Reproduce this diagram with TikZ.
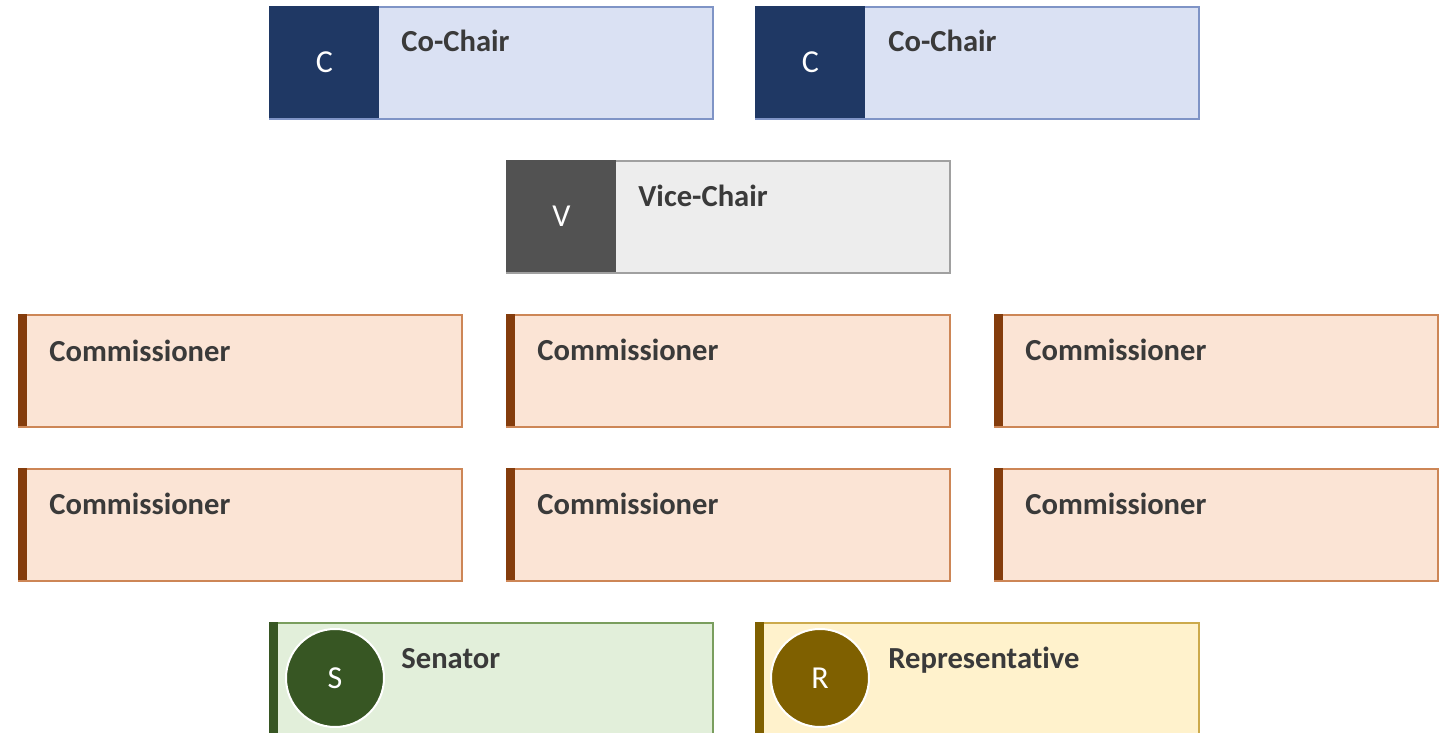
\documentclass[tikz,border=0pt]{standalone}
\usepackage{fontspec}
\setmainfont[Ligatures=NoCommon]{Carlito}
\definecolor{chairdark}{HTML}{1F3864}
\definecolor{chairfill}{HTML}{DAE1F3}
\definecolor{chairline}{HTML}{7F94C6}
\definecolor{vicedark}{HTML}{525252}
\definecolor{vicefill}{HTML}{EDEDED}
\definecolor{viceline}{HTML}{A0A0A0}
\definecolor{comfill}{HTML}{FBE4D5}
\definecolor{comline}{HTML}{CD8656}
\definecolor{combar}{HTML}{843C0C}
\definecolor{senfill}{HTML}{E2EFDA}
\definecolor{senline}{HTML}{7A9E5E}
\definecolor{sendark}{HTML}{375623}
\definecolor{repfill}{HTML}{FFF2CC}
\definecolor{repline}{HTML}{CCAA4C}
\definecolor{repdark}{HTML}{7F6000}
\definecolor{txtgray}{HTML}{3A3A3A}
\begin{document}
\begin{tikzpicture}[x=0.5pt, y=-0.5pt,
    box/.style={draw, rectangle, anchor=north west, minimum width=221.5pt, minimum height=56pt, line width=0.9pt, inner sep=0pt},
    tag/.style={rectangle, anchor=north west, minimum width=55pt, minimum height=56pt, inner sep=0pt, text=white, font=\fontsize{16}{19}\selectfont},
    bar/.style={rectangle, anchor=north west, minimum width=4.5pt, minimum height=56pt, inner sep=0pt},
    lbl/.style={anchor=base west, inner sep=0pt, text=txtgray, font=\bfseries\fontsize{15.3}{18}\selectfont},
    avatar/.style={circle, draw=white, line width=1pt, minimum size=49pt, inner sep=0pt, text=white, font=\fontsize{16}{19}\selectfont}]
  \useasboundingbox (0,0) rectangle (1442,733);
  \clip (0,0) rectangle (1442,733);
  % co-chairs
  \node[box, draw=chairline, fill=chairfill] (chairA) at (269,6) {};
  \node[tag, fill=chairdark] (chairAtag) at (chairA.north west) {C};
  \node[lbl] (chairAtxt) at (401,52) {Co-Chair};
  \node[box, draw=chairline, fill=chairfill] (chairB) at (755,6) {};
  \node[tag, fill=chairdark] (chairBtag) at (chairB.north west) {C};
  \node[lbl] (chairBtxt) at (888,52) {Co-Chair};
  % vice-chair
  \node[box, draw=viceline, fill=vicefill] (vice) at (506,160) {};
  \node[tag, fill=vicedark] (vicetag) at (vice.north west) {V};
  \node[lbl] (vicetxt) at (638,206) {Vice-Chair};
  % commissioners
  \node[box, draw=comline, fill=comfill] (comA) at (18,314) {};   \node[bar, fill=combar] at (comA.north west) {};
  \node[lbl] (comAtxt) at (49,361) {Commissioner};
  \node[box, draw=comline, fill=comfill] (comB) at (506,314) {};  \node[bar, fill=combar] at (comB.north west) {};
  \node[lbl] (comBtxt) at (537,360) {Commissioner};
  \node[box, draw=comline, fill=comfill] (comC) at (994,314) {};  \node[bar, fill=combar] at (comC.north west) {};
  \node[lbl] (comCtxt) at (1025,360) {Commissioner};
  \node[box, draw=comline, fill=comfill] (comD) at (18,468) {};   \node[bar, fill=combar] at (comD.north west) {};
  \node[lbl] (comDtxt) at (49,514) {Commissioner};
  \node[box, draw=comline, fill=comfill] (comE) at (506,468) {};  \node[bar, fill=combar] at (comE.north west) {};
  \node[lbl] (comEtxt) at (537,514) {Commissioner};
  \node[box, draw=comline, fill=comfill] (comF) at (994,468) {};  \node[bar, fill=combar] at (comF.north west) {};
  \node[lbl] (comFtxt) at (1025,514) {Commissioner};
  % members of congress
  \node[box, draw=senline, fill=senfill, minimum height=59pt] (sen) at (269,622) {};
  \node[bar, fill=sendark, minimum height=59pt] at (sen.north west) {};
  \node[avatar, fill=sendark] (senpic) at (335,678) {S};
  \node[lbl] (sentxt) at (401,668) {Senator};
  \node[box, draw=repline, fill=repfill, minimum height=59pt] (rep) at (755,622) {};
  \node[bar, fill=repdark, minimum height=59pt] at (rep.north west) {};
  \node[avatar, fill=repdark] (reppic) at (820,678) {R};
  \node[lbl] (reptxt) at (888,668) {Representative};
\end{tikzpicture}
\end{document}
